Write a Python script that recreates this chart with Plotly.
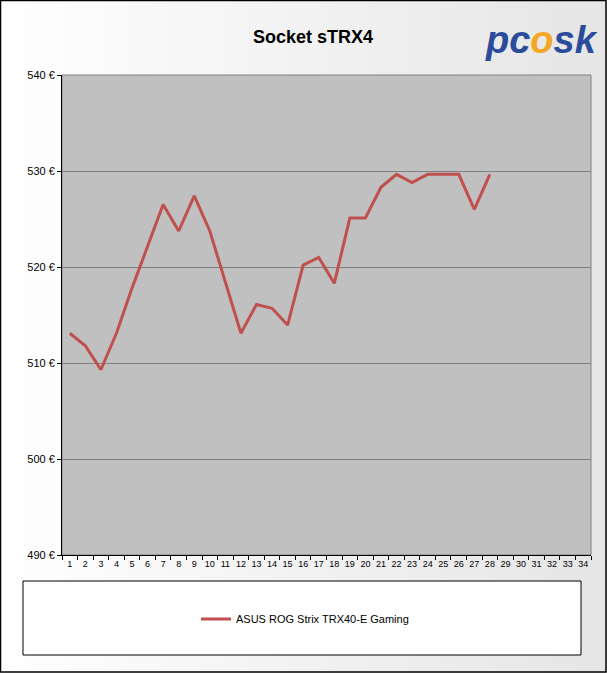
import plotly.graph_objects as go

# price history, EUR
weeks = [str(i) for i in range(1, 29)]
prices = [513.1, 511.8, 509.3, 513.1, 517.8, 522.2, 526.5, 523.75, 527.4, 523.75,
          518.4, 513.1, 516.1, 515.7, 513.95, 520.2, 521.0, 518.3, 525.1, 525.1,
          528.3, 529.65, 528.8, 529.65, 529.65, 529.65, 526.0, 529.65]
all_weeks = [str(i) for i in range(1, 35)]
series_name = "ASUS ROG Strix TRX40-E Gaming"
chart_title = "Socket sTRX4"

W, H = 607, 673
L, R, T, B = 62, 591, 75, 555


def px_x(p):
    return (p - L) / (R - L)


def px_y(p):
    return (B - p) / (B - T)


fig = go.Figure()
fig.add_trace(go.Scatter(
    x=weeks, y=prices, mode="lines", name=series_name,
    line=dict(color="#c0504d", width=3),
))

shapes = []
# background gradient in vertical strips
n = 40
for i in range(n):
    g = int(255 - (255 - 230) * i / (n - 1))
    shapes.append(dict(
        type="rect", xref="paper", yref="paper", layer="below",
        x0=px_x(i * W / n), x1=px_x((i + 1) * W / n + 1),
        y0=px_y(H), y1=px_y(0),
        line=dict(width=0), fillcolor=f"rgb({g},{g},{g})",
    ))
# plot area
shapes.append(dict(
    type="rect", xref="paper", yref="paper", layer="below",
    x0=0, x1=1, y0=0, y1=1,
    line=dict(color="#808080", width=1), fillcolor="#c0c0c0",
))
# legend box
shapes.append(dict(
    type="rect", xref="paper", yref="paper", layer="below",
    x0=px_x(23), x1=px_x(581), y0=px_y(655), y1=px_y(581),
    line=dict(color="black", width=1), fillcolor="white",
))
# outer frame
shapes.append(dict(
    type="rect", xref="paper", yref="paper", layer="above",
    x0=px_x(0.5), x1=px_x(W - 1), y0=px_y(H - 1), y1=px_y(0.5),
    line=dict(color="black", width=1.5),
))

fig.update_layout(
    width=W, height=H,
    margin=dict(l=L, r=W - R, t=T, b=H - B),
    paper_bgcolor="white", plot_bgcolor="rgba(0,0,0,0)",
    font=dict(family="Liberation Sans, Arial, sans-serif", color="black", size=11),
    title=dict(text=f"<b>{chart_title}</b>", x=px_x(313), xref="paper",
               y=1 - 37 / H, yref="container", xanchor="center", yanchor="middle",
               font=dict(size=18, color="black")),
    shapes=shapes,
    showlegend=True,
    legend=dict(orientation="h", x=px_x(305), xanchor="center",
                y=px_y(619), yanchor="middle", bgcolor="rgba(0,0,0,0)",
                font=dict(size=11)),
    annotations=[dict(
        text="<b><i><span style='color:#2b4c9b'>pc</span>"
             "<span style='color:#f5a623'>o</span>"
             "<span style='color:#2b4c9b'>sk</span></i></b>",
        x=px_x(541), y=px_y(40), xref="paper", yref="paper",
        xanchor="center", yanchor="middle", showarrow=False,
        font=dict(size=38, family="Liberation Sans, Arial, sans-serif"),
    )],
)

fig.update_xaxes(
    type="category", categoryorder="array", categoryarray=all_weeks,
    range=[-0.5, 33.5], tickmode="array", tickvals=all_weeks,
    ticks="outside", tickson="boundaries", ticklen=4, tickcolor="black",
    showline=True, linecolor="black", linewidth=1, showgrid=False,
    tickangle=0, tickfont=dict(size=9), fixedrange=True,
)
fig.update_yaxes(
    range=[490, 540], dtick=10, ticksuffix=" €",
    ticks="outside", ticklen=4, tickcolor="black",
    showline=True, linecolor="black", linewidth=1,
    showgrid=True, gridcolor="#808080", gridwidth=1, zeroline=False,
    tickfont=dict(size=11), fixedrange=True,
)

fig.write_html("out.html", config={"displayModeBar": False},
               post_script="document.body.style.margin='0';")
